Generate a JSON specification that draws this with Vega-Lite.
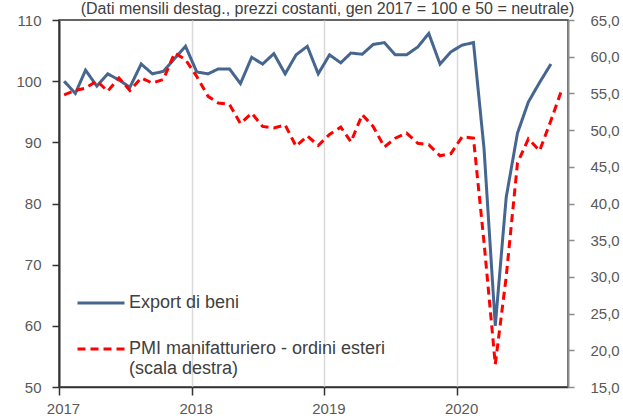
{
  "$schema": "https://vega.github.io/schema/vega-lite/v6.json",
  "width": 509,
  "height": 367,
  "autosize": {"type": "none"},
  "padding": {"left": 59, "top": 20, "right": 55, "bottom": 31},
  "title": {
    "text": "(Dati mensili destag., prezzi costanti, gen 2017 = 100 e 50 = neutrale)",
    "font": "Liberation Sans",
    "fontSize": 16,
    "fontWeight": "normal",
    "color": "#404040",
    "anchor": "middle",
    "offset": 0,
    "dy": 4,
    "dx": 14
  },
  "config": {
    "view": {"stroke": "#333333", "strokeWidth": 1.5},
    "axis": {"labelFont": "Liberation Sans", "labelFontSize": 15, "labelColor": "#595959"}
  },
  "data": {
    "values": [
      {"date": "2017-01-15", "serie": "Export di beni", "value": 100.0},
      {"date": "2017-02-15", "serie": "Export di beni", "value": 98.0},
      {"date": "2017-03-15", "serie": "Export di beni", "value": 101.8},
      {"date": "2017-04-15", "serie": "Export di beni", "value": 99.2},
      {"date": "2017-05-15", "serie": "Export di beni", "value": 101.2},
      {"date": "2017-06-15", "serie": "Export di beni", "value": 100.2},
      {"date": "2017-07-15", "serie": "Export di beni", "value": 99.0},
      {"date": "2017-08-15", "serie": "Export di beni", "value": 102.8},
      {"date": "2017-09-15", "serie": "Export di beni", "value": 101.2},
      {"date": "2017-10-15", "serie": "Export di beni", "value": 101.6},
      {"date": "2017-11-15", "serie": "Export di beni", "value": 103.7},
      {"date": "2017-12-15", "serie": "Export di beni", "value": 105.7},
      {"date": "2018-01-15", "serie": "Export di beni", "value": 101.5},
      {"date": "2018-02-15", "serie": "Export di beni", "value": 101.2},
      {"date": "2018-03-15", "serie": "Export di beni", "value": 102.0},
      {"date": "2018-04-15", "serie": "Export di beni", "value": 102.0},
      {"date": "2018-05-15", "serie": "Export di beni", "value": 99.6},
      {"date": "2018-06-15", "serie": "Export di beni", "value": 103.9},
      {"date": "2018-07-15", "serie": "Export di beni", "value": 102.8},
      {"date": "2018-08-15", "serie": "Export di beni", "value": 104.5},
      {"date": "2018-09-15", "serie": "Export di beni", "value": 101.2},
      {"date": "2018-10-15", "serie": "Export di beni", "value": 104.3},
      {"date": "2018-11-15", "serie": "Export di beni", "value": 105.7},
      {"date": "2018-12-15", "serie": "Export di beni", "value": 101.2},
      {"date": "2019-01-15", "serie": "Export di beni", "value": 104.3},
      {"date": "2019-02-15", "serie": "Export di beni", "value": 103.0},
      {"date": "2019-03-15", "serie": "Export di beni", "value": 104.6},
      {"date": "2019-04-15", "serie": "Export di beni", "value": 104.4},
      {"date": "2019-05-15", "serie": "Export di beni", "value": 106.0},
      {"date": "2019-06-15", "serie": "Export di beni", "value": 106.3},
      {"date": "2019-07-15", "serie": "Export di beni", "value": 104.3},
      {"date": "2019-08-15", "serie": "Export di beni", "value": 104.3},
      {"date": "2019-09-15", "serie": "Export di beni", "value": 105.6},
      {"date": "2019-10-15", "serie": "Export di beni", "value": 107.8},
      {"date": "2019-11-15", "serie": "Export di beni", "value": 102.8},
      {"date": "2019-12-15", "serie": "Export di beni", "value": 104.8},
      {"date": "2020-01-15", "serie": "Export di beni", "value": 105.9},
      {"date": "2020-02-15", "serie": "Export di beni", "value": 106.3},
      {"date": "2020-03-15", "serie": "Export di beni", "value": 89.0},
      {"date": "2020-04-15", "serie": "Export di beni", "value": 60.0},
      {"date": "2020-05-15", "serie": "Export di beni", "value": 81.0},
      {"date": "2020-06-15", "serie": "Export di beni", "value": 91.5},
      {"date": "2020-07-15", "serie": "Export di beni", "value": 96.6},
      {"date": "2020-08-15", "serie": "Export di beni", "value": 99.8},
      {"date": "2020-09-15", "serie": "Export di beni", "value": 102.8},
      {"date": "2017-01-15", "serie": "PMI manifatturiero - ordini esteri", "value": 54.8},
      {"date": "2017-02-15", "serie": "PMI manifatturiero - ordini esteri", "value": 55.4},
      {"date": "2017-03-15", "serie": "PMI manifatturiero - ordini esteri", "value": 55.7},
      {"date": "2017-04-15", "serie": "PMI manifatturiero - ordini esteri", "value": 56.7},
      {"date": "2017-05-15", "serie": "PMI manifatturiero - ordini esteri", "value": 55.3},
      {"date": "2017-06-15", "serie": "PMI manifatturiero - ordini esteri", "value": 57.1},
      {"date": "2017-07-15", "serie": "PMI manifatturiero - ordini esteri", "value": 55.4},
      {"date": "2017-08-15", "serie": "PMI manifatturiero - ordini esteri", "value": 57.1},
      {"date": "2017-09-15", "serie": "PMI manifatturiero - ordini esteri", "value": 56.4},
      {"date": "2017-10-15", "serie": "PMI manifatturiero - ordini esteri", "value": 56.9},
      {"date": "2017-11-15", "serie": "PMI manifatturiero - ordini esteri", "value": 60.5},
      {"date": "2017-12-15", "serie": "PMI manifatturiero - ordini esteri", "value": 59.6},
      {"date": "2018-01-15", "serie": "PMI manifatturiero - ordini esteri", "value": 57.3},
      {"date": "2018-02-15", "serie": "PMI manifatturiero - ordini esteri", "value": 54.6},
      {"date": "2018-03-15", "serie": "PMI manifatturiero - ordini esteri", "value": 53.7},
      {"date": "2018-04-15", "serie": "PMI manifatturiero - ordini esteri", "value": 53.5},
      {"date": "2018-05-15", "serie": "PMI manifatturiero - ordini esteri", "value": 50.9},
      {"date": "2018-06-15", "serie": "PMI manifatturiero - ordini esteri", "value": 52.3},
      {"date": "2018-07-15", "serie": "PMI manifatturiero - ordini esteri", "value": 50.5},
      {"date": "2018-08-15", "serie": "PMI manifatturiero - ordini esteri", "value": 50.3},
      {"date": "2018-09-15", "serie": "PMI manifatturiero - ordini esteri", "value": 50.7},
      {"date": "2018-10-15", "serie": "PMI manifatturiero - ordini esteri", "value": 47.8},
      {"date": "2018-11-15", "serie": "PMI manifatturiero - ordini esteri", "value": 49.2},
      {"date": "2018-12-15", "serie": "PMI manifatturiero - ordini esteri", "value": 47.9},
      {"date": "2019-01-15", "serie": "PMI manifatturiero - ordini esteri", "value": 49.4},
      {"date": "2019-02-15", "serie": "PMI manifatturiero - ordini esteri", "value": 50.4},
      {"date": "2019-03-15", "serie": "PMI manifatturiero - ordini esteri", "value": 48.4},
      {"date": "2019-04-15", "serie": "PMI manifatturiero - ordini esteri", "value": 52.1},
      {"date": "2019-05-15", "serie": "PMI manifatturiero - ordini esteri", "value": 50.5},
      {"date": "2019-06-15", "serie": "PMI manifatturiero - ordini esteri", "value": 47.7},
      {"date": "2019-07-15", "serie": "PMI manifatturiero - ordini esteri", "value": 48.9},
      {"date": "2019-08-15", "serie": "PMI manifatturiero - ordini esteri", "value": 49.6},
      {"date": "2019-09-15", "serie": "PMI manifatturiero - ordini esteri", "value": 48.2},
      {"date": "2019-10-15", "serie": "PMI manifatturiero - ordini esteri", "value": 48.0},
      {"date": "2019-11-15", "serie": "PMI manifatturiero - ordini esteri", "value": 46.5},
      {"date": "2019-12-15", "serie": "PMI manifatturiero - ordini esteri", "value": 46.8},
      {"date": "2020-01-15", "serie": "PMI manifatturiero - ordini esteri", "value": 49.1},
      {"date": "2020-02-15", "serie": "PMI manifatturiero - ordini esteri", "value": 48.9},
      {"date": "2020-03-15", "serie": "PMI manifatturiero - ordini esteri", "value": 34.7},
      {"date": "2020-04-15", "serie": "PMI manifatturiero - ordini esteri", "value": 18.1},
      {"date": "2020-05-15", "serie": "PMI manifatturiero - ordini esteri", "value": 30.0},
      {"date": "2020-06-15", "serie": "PMI manifatturiero - ordini esteri", "value": 45.5},
      {"date": "2020-07-15", "serie": "PMI manifatturiero - ordini esteri", "value": 48.8},
      {"date": "2020-08-15", "serie": "PMI manifatturiero - ordini esteri", "value": 47.2},
      {"date": "2020-09-15", "serie": "PMI manifatturiero - ordini esteri", "value": 51.3},
      {"date": "2020-10-15", "serie": "PMI manifatturiero - ordini esteri", "value": 55.5}
    ]
  },
  "encoding": {
    "x": {
      "field": "date",
      "type": "temporal",
      "title": null,
      "scale": {"type": "utc", "domain": ["2017-01-01", "2020-11-01"]},
      "axis": {
        "format": "%Y",
        "formatType": "utc",
        "tickCount": {"interval": "year", "step": 1},
        "grid": true,
        "gridColor": "#d9d9d9",
        "gridWidth": 1.5,
        "domainColor": "#333333",
        "domainWidth": 1.5,
        "tickColor": "#333333",
        "tickWidth": 1.5,
        "tickSize": 8,
        "labelPadding": 6,
        "labelAlign": "center",
        "labelOffset": 4,
        "labelFlush": false,
        "labelOverlap": false
      }
    },
    "color": {
      "field": "serie",
      "type": "nominal",
      "scale": {
        "domain": ["Export di beni", "PMI manifatturiero - ordini esteri"],
        "range": ["#46668f", "#ff0000"]
      },
      "legend": {
        "orient": "none",
        "legendX": 17,
        "legendY": 258,
        "title": null,
        "symbolType": "stroke",
        "symbolSize": 2209,
        "symbolStrokeWidth": 3,
        "labelFont": "Liberation Sans",
        "labelFontSize": 18,
        "labelColor": "#404040",
        "labelOffset": 3,
        "labelLimit": 500,
        "rowPadding": 12,
        "labelBaseline": "middle",
        "labelExpr": "datum.label == 'Export di beni' ? datum.label : ['PMI manifatturiero - ordini esteri', '(scala destra)']"
      }
    },
    "strokeDash": {
      "field": "serie",
      "type": "nominal",
      "scale": {
        "domain": ["Export di beni", "PMI manifatturiero - ordini esteri"],
        "range": [[1, 0], [8, 5]]
      },
      "legend": {
        "orient": "none",
        "legendX": 17,
        "legendY": 258,
        "title": null,
        "symbolType": "stroke",
        "symbolSize": 2209,
        "symbolStrokeWidth": 3,
        "labelFont": "Liberation Sans",
        "labelFontSize": 18,
        "labelColor": "#404040",
        "labelOffset": 3,
        "labelLimit": 500,
        "rowPadding": 12,
        "labelBaseline": "middle",
        "labelExpr": "datum.label == 'Export di beni' ? datum.label : ['PMI manifatturiero - ordini esteri', '(scala destra)']"
      }
    }
  },
  "layer": [
    {
      "transform": [{"filter": "datum.serie == 'Export di beni'"}],
      "mark": {"type": "line", "strokeWidth": 3, "strokeJoin": "miter"},
      "encoding": {
        "y": {
          "field": "value",
          "type": "quantitative",
          "title": null,
          "scale": {"domain": [50, 110], "nice": false, "zero": false},
          "axis": {
            "values": [50, 60, 70, 80, 90, 100, 110],
            "grid": false,
            "domainColor": "#333333",
            "domainWidth": 2,
            "tickColor": "#333333",
            "tickWidth": 1.5,
            "tickSize": 7,
            "labelPadding": 11
          }
        }
      }
    },
    {
      "transform": [{"filter": "datum.serie != 'Export di beni'"}],
      "mark": {"type": "line", "strokeWidth": 3},
      "encoding": {
        "y": {
          "field": "value",
          "type": "quantitative",
          "title": null,
          "scale": {"domain": [15, 65], "nice": false, "zero": false},
          "axis": {
            "orient": "right",
            "values": [15, 20, 25, 30, 35, 40, 45, 50, 55, 60, 65],
            "labelExpr": "replace(format(datum.value, '.1f'), '.', ',')",
            "grid": false,
            "domainColor": "#8c8c8c",
            "domainWidth": 2,
            "tickColor": "#8c8c8c",
            "tickWidth": 1.5,
            "tickSize": 6,
            "labelPadding": 16
          }
        }
      }
    }
  ],
  "resolve": {"scale": {"y": "independent"}}
}
